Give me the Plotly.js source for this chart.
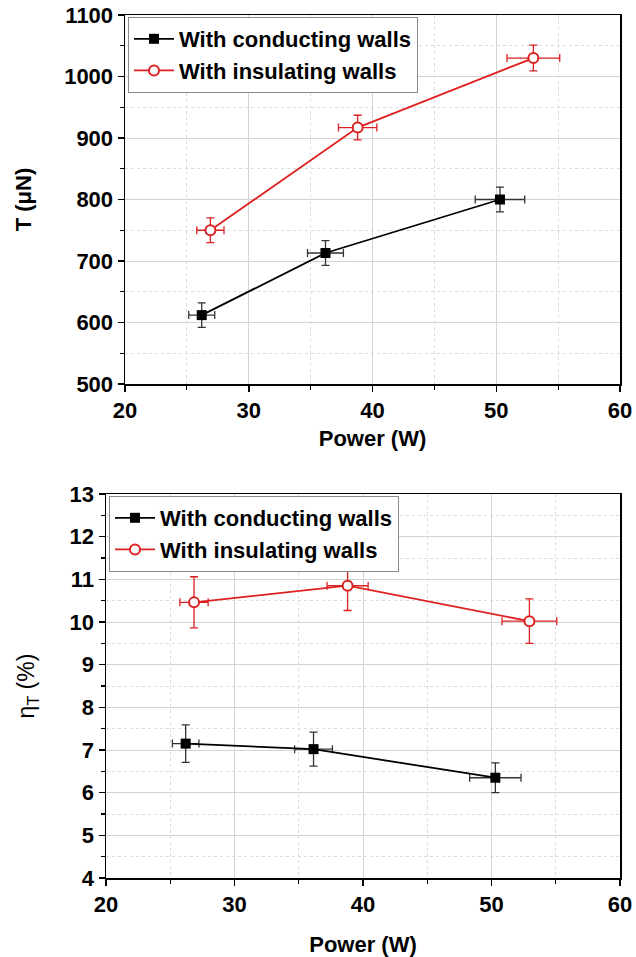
<!DOCTYPE html>
<html>
<head>
<meta charset="utf-8">
<script src="https://cdn.plot.ly/plotly-3.0.1.min.js"></script>
<style>html,body{margin:0;padding:0;background:#fff;}#chart{width:636px;height:957px;}</style>
</head>
<body>
<div id="chart"></div>
<script>
// ---- Data ----
const seriesNames = ["With conducting walls", "With insulating walls"];

// Top panel: Thrust vs Power
const powerCondT = [26.2, 36.2, 50.3];
const powerCondTErr = [1.05, 1.45, 2.0];
const thrustCond = [612, 713, 800];
const thrustCondErr = [20, 20, 20];

const powerInsT = [26.9, 38.8, 53.0];
const powerInsTErr = [1.1, 1.55, 2.13];
const thrustIns = [750, 917, 1030];
const thrustInsErr = [20, 20, 21];

// Bottom panel: thrust efficiency vs Power
const powerCondE = [26.2, 36.15, 50.3];
const powerCondEErr = [1.03, 1.47, 2.0];
const effCond = [7.15, 7.02, 6.35];
const effCondErr = [0.44, 0.40, 0.35];

const powerInsE = [26.85, 38.8, 52.95];
const powerInsEErr = [1.1, 1.6, 2.13];
const effIns = [10.46, 10.85, 10.02];
const effInsErr = [0.6, 0.58, 0.52];

const xTicks = [20, 30, 40, 50, 60];
const yTicksT = [500, 600, 700, 800, 900, 1000, 1100];
const yTicksE = [4, 5, 6, 7, 8, 9, 10, 11, 12, 13];

// ---- Styles ----
const BLACK = '#000000';
const RED = '#dd2020';
const FONT = 'Liberation Sans, Arial, sans-serif';

function trace(x, xe, y, ye, name, color, symbol, xa, ya, legend) {
  return {
    x: x, y: y, name: name, type: 'scatter', mode: 'lines+markers',
    xaxis: xa, yaxis: ya, legend: legend,
    line: {color: color, width: 1.8},
    marker: symbol === 'square'
      ? {symbol: 'square', size: 10, color: color}
      : {symbol: 'circle', size: 10, color: '#ffffff', line: {color: color, width: 2}},
    error_x: {type: 'data', array: xe, visible: true, color: color === BLACK ? '#333333' : color, thickness: 1.3, width: 4},
    error_y: {type: 'data', array: ye, visible: true, color: color === BLACK ? '#333333' : color, thickness: 1.3, width: 4}
  };
}

const data = [
  trace(powerCondT, powerCondTErr, thrustCond, thrustCondErr, seriesNames[0], BLACK, 'square', 'x', 'y', 'legend'),
  trace(powerInsT, powerInsTErr, thrustIns, thrustInsErr, seriesNames[1], RED, 'circle', 'x', 'y', 'legend'),
  trace(powerCondE, powerCondEErr, effCond, effCondErr, seriesNames[0], BLACK, 'square', 'x2', 'y2', 'legend2'),
  trace(powerInsE, powerInsEErr, effIns, effInsErr, seriesNames[1], RED, 'circle', 'x2', 'y2', 'legend2')
];

const tickFont = {family: FONT, size: 22, color: '#000', weight: 'bold'};
function minorBase(extra) {
  return Object.assign({ticks: 'outside', ticklen: 4, tickwidth: 1.2, tickcolor: '#000',
            showgrid: true, gridcolor: '#dcdcdc', griddash: 'dot', gridwidth: 1}, extra);
}
function axisBase(extra) {
  return Object.assign({
    showline: true, linecolor: '#000', linewidth: 1.5, mirror: true,
    ticks: 'outside', ticklen: 6, tickwidth: 1.5, tickcolor: '#000',
    showgrid: true, gridcolor: '#d4d4d4', gridwidth: 1,
    zeroline: false, automargin: false, tickfont: tickFont
  }, extra);
}

const layout = {
  width: 636, height: 957,
  margin: {l: 0, r: 0, t: 0, b: 0},
  paper_bgcolor: '#fff', plot_bgcolor: '#fff',
  showlegend: true,
  font: {family: FONT, color: '#000'},
  xaxis: axisBase({
    domain: [125/636, 620/636], anchor: 'y', range: [20, 60],
    tickvals: xTicks, ticktext: xTicks.map(String),
    minor: minorBase({dtick: 5, tick0: 25}),
    title: {text: 'Power (W)', font: {family: FONT, size: 22, weight: 'bold'}, standoff: 8}
  }),
  yaxis: axisBase({
    domain: [1 - 384/957, 1 - 15/957], anchor: 'x', range: [500, 1100],
    tickvals: yTicksT, ticktext: yTicksT.map(String),
    minor: minorBase({dtick: 50, tick0: 550}),
    title: {text: 'T (μN)', font: {family: FONT, size: 22, weight: 'bold'}, standoff: 26}
  }),
  xaxis2: axisBase({
    domain: [106/636, 620/636], anchor: 'y2', range: [20, 60],
    tickvals: xTicks, ticktext: xTicks.map(String),
    minor: minorBase({dtick: 5, tick0: 25}),
    title: {text: 'Power (W)', font: {family: FONT, size: 22, weight: 'bold'}, standoff: 20}
  }),
  yaxis2: axisBase({
    domain: [1 - 878/957, 1 - 494/957], anchor: 'x2', range: [4, 13],
    tickvals: yTicksE, ticktext: yTicksE.map(String),
    minor: minorBase({dtick: 0.5, tick0: 4.5}),
    title: {text: 'η<sub>T</sub> (%)', font: {family: FONT, size: 23}, standoff: 28}
  }),
  legend: {
    x: 128/636, y: 1 - 17/957, xanchor: 'left', yanchor: 'top',
    bgcolor: '#ffffff', bordercolor: '#8a8a8a', borderwidth: 1,
    font: {family: FONT, size: 22, color: '#000', weight: 'bold'},
    tracegroupgap: 0, itemwidth: 40
  },
  legend2: {
    x: 109/636, y: 1 - 496/957, xanchor: 'left', yanchor: 'top',
    bgcolor: '#ffffff', bordercolor: '#8a8a8a', borderwidth: 1,
    font: {family: FONT, size: 22, color: '#000', weight: 'bold'},
    tracegroupgap: 0, itemwidth: 40
  }
};

Plotly.newPlot('chart', data, layout, {displayModeBar: false, staticPlot: true});
</script>
</body>
</html>
